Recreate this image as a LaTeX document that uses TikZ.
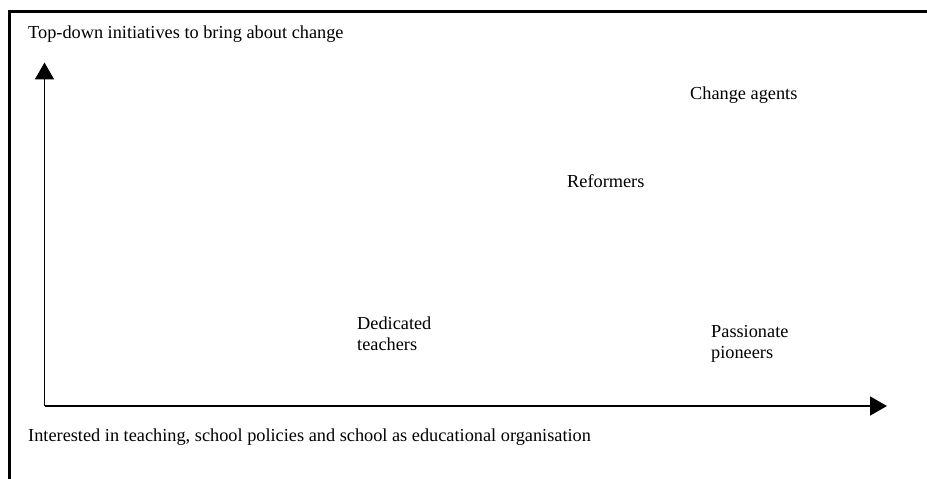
\documentclass[tikz,border=0pt]{standalone}
\usepackage{fontspec}
\setmainfont{Liberation Serif}
\usetikzlibrary{arrows.meta}
\begin{document}
\begin{tikzpicture}[x=1bp,y=-1bp,
  lbl/.style={anchor=base west,inner sep=0pt,font=\fontsize{18.3bp}{21bp}\selectfont,align=left},
  axis/.style={line width=1.7bp,-{Triangle[length=17bp,width=19bp]}},
  frame/.style={line width=2.2bp}]
\useasboundingbox[fill=white] (0,0) rectangle (927,479);
\draw[frame] (9.5,485) -- (9.5,11.5) -- (935,11.5);
\coordinate (origin) at (44.5,406);
\coordinate (ytip) at (44.5,62.5);
\coordinate (xtip) at (887,406);
\draw[axis] (origin) -- (ytip);
\draw[axis] (origin) -- (xtip);
\node[lbl] (ylab) at (28,39) {Top-down initiatives to bring about change};
\node[lbl] (xlab) at (28,441) {Interested in teaching, school policies and school as educational organisation};
\node[lbl] (agents) at (690,100) {Change agents};
\node[lbl] (reform) at (567,188) {Reformers};
\node[lbl] (dedic) at (357,350.5) {Dedicated\\teachers};
\node[lbl] (passion) at (711,358.5) {Passionate\\pioneers};
\end{tikzpicture}
\end{document}
